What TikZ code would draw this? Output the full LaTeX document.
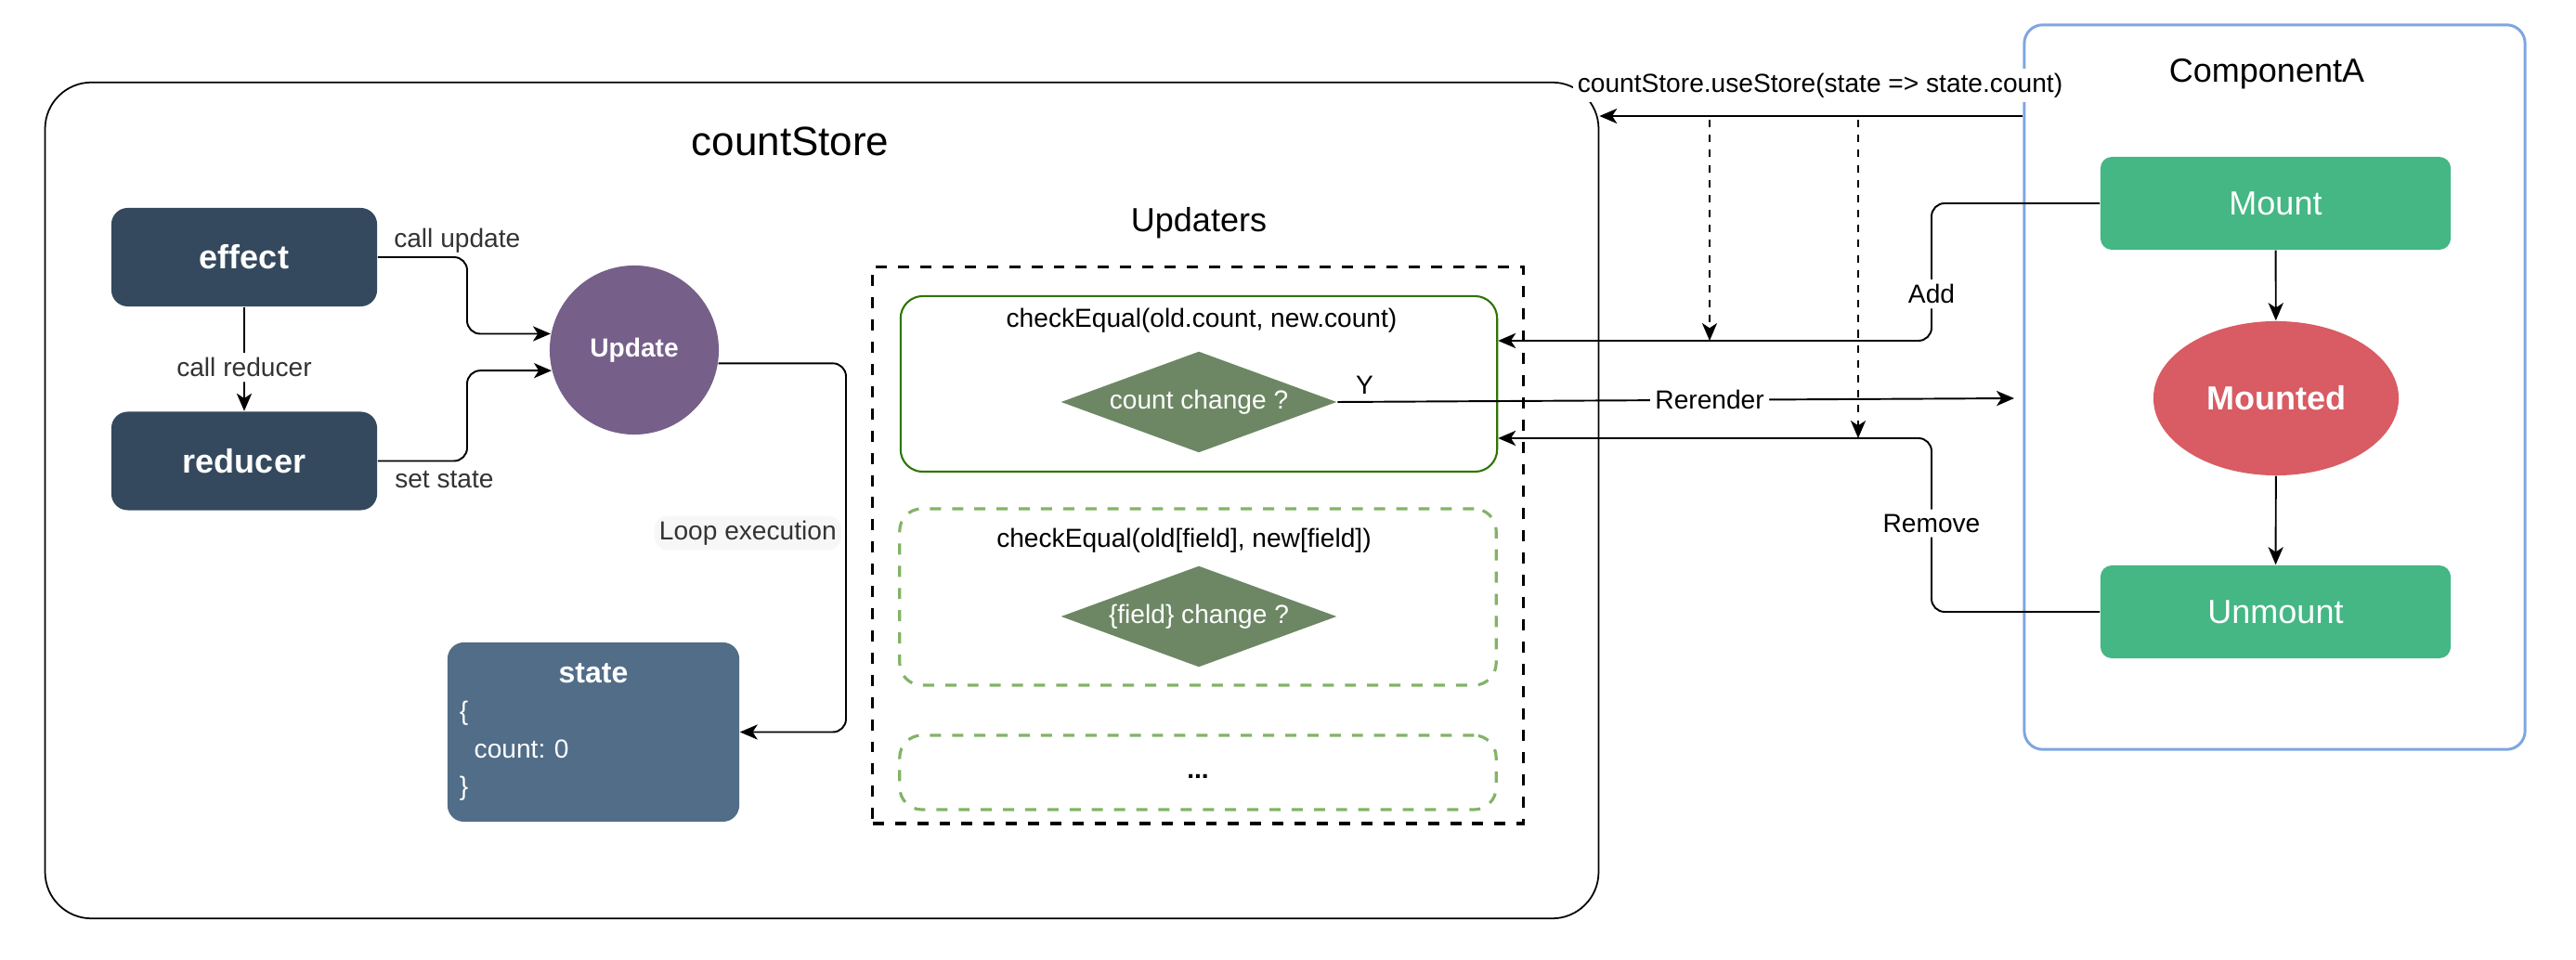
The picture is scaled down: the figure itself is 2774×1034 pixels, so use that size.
\documentclass[tikz,border=0pt]{standalone}
\usepackage{fontspec}
\setmainfont{Liberation Sans}
\usepackage{tikz}
\usetikzlibrary{arrows.meta, shapes.geometric, positioning}
\tikzset{>={Stealth[length=5.4pt, width=4.6pt, inset=1.5pt]}}

\definecolor{navy}{HTML}{34495E}
\definecolor{slate}{HTML}{516D88}
\definecolor{purp}{HTML}{76608A}
\definecolor{olive}{HTML}{6D8764}
\definecolor{dkgreen}{HTML}{2D7600}
\definecolor{ltgreen}{HTML}{82B366}
\definecolor{mint}{HTML}{44B784}
\definecolor{coral}{HTML}{D95B63}
\definecolor{skyblue}{HTML}{7EA6E0}
\definecolor{txtgray}{HTML}{333333}

\newcommand\sizeS{\fontsize{8}{9.6}\selectfont}
\newcommand\sizeM{\fontsize{9.1}{11}\selectfont}
\newcommand\sizeL{\fontsize{10.24}{12.3}\selectfont}
\newcommand\sizeXL{\fontsize{12.5}{15}\selectfont}

\begin{document}
\begin{tikzpicture}[x=0.01cm, y=-0.01cm,
  every node/.style={font=\sizeS},
  lbl/.style={fill=white, inner sep=1.5pt},
  arr/.style={->, line width=0.55pt, rounded corners=4pt},
  tap/.style={->, line width=0.4pt, dash pattern=on 2.3pt off 2.3pt},
  storebox/.style={rectangle, draw, line width=0.5pt, rounded corners=0.5cm, minimum width=16.72cm, minimum height=9cm},
  compbox/.style={rectangle, draw=skyblue, line width=0.85pt, rounded corners=0.2cm, minimum width=5.39cm, minimum height=7.8cm},
  dashbox/.style={rectangle, draw, line width=0.95pt, dash pattern=on 3.4pt off 3.4pt, minimum width=7cm, minimum height=5.99cm},
  updbox/.style={rectangle, draw=dkgreen, line width=0.6pt, rounded corners=6.8pt, minimum width=6.42cm, minimum height=1.89cm},
  updboxdash/.style={updbox, draw=ltgreen, line width=0.9pt, dash pattern=on 3.4pt off 3.4pt, minimum height=1.9cm},
  darkbox/.style={rectangle, rounded corners=5pt, fill=navy, text=white, minimum width=2.86cm, minimum height=1.06cm, font=\sizeL\bfseries},
  statebox/.style={rectangle, rounded corners=5pt, fill=slate, text=white, minimum width=3.14cm, minimum height=1.93cm, text width=3.14cm-7.4pt, inner xsep=3.7pt, align=left, font=\fontsize{8}{11.4}\selectfont},
  greenbox/.style={rectangle, rounded corners=3.5pt, fill=mint, text=white, minimum width=3.77cm, minimum height=1cm, font=\sizeL},
  cond/.style={diamond, aspect=2.72, fill=olive, text=white, minimum width=2.97cm, minimum height=1.09cm, inner sep=0pt}]
\useasboundingbox (0,0) rectangle (2774,1034);

% containers
\node[storebox] (store) at (885,539) {};
\node[font=\sizeXL] (storetitle) at (851,152) {countStore};
\node[compbox] (compA) at (2449.5,417) {};
\node[font=\sizeL] (comptitle) at (2441,80) {ComponentA};

% store internals
\node[darkbox] (effect) at (263,277) {effect};
\node[darkbox] (reducer) at (263,496.5) {reducer};
\node[circle, fill=purp, minimum size=1.82cm, inner sep=0pt, text=white, font=\sizeS\bfseries] (update) at (683,377) {Update};
\node[statebox] (state) at (639,788.5) {\makebox[\linewidth]{\sizeM\bfseries state}\\ \{\\ \hspace*{4.5pt}count:\ 0\\ \}};

% updaters
\node[font=\sizeL] (updtitle) at (1291,240) {Updaters};
\node[dashbox] (updaters) at (1290,587.5) {};
\node[updbox] (upd1) at (1291,413.5) {};
\node (eq1) at (1294,345) {checkEqual(old.count, new.count)};
\node[cond] (d1) at (1291,433) {count change ?};
\node[updboxdash] (upd2) at (1290,643) {};
\node (eq2) at (1275,582) {checkEqual(old[field], new[field])};
\node[cond] (d2) at (1291,664) {\{field\} change ?};
\node[updboxdash, minimum height=0.8cm] (upd3) at (1290,832) {\strut\textbf{...}};

% component
\node[greenbox] (mount) at (2450.5,219) {Mount};
\node[ellipse, fill=coral, minimum width=2.64cm, minimum height=1.66cm, text=white, font=\sizeL\bfseries] (mounted) at (2451,429) {Mounted};
\node[greenbox] (unmount) at (2450.5,659) {Unmount};

% store connectors
\coordinate (joinX) at (503,0);
\coordinate (loopX) at (911,0);
\draw[arr] (effect) -- node[lbl, pos=0.58, text=txtgray]{call reducer} (reducer);
\draw[arr] (effect.east) node[anchor=south west, inner sep=1pt, xshift=0.13cm, text=txtgray]{call update} -| (joinX |- update.169) -- (update.169);
\draw[arr] (reducer.east) node[anchor=north west, inner sep=1pt, xshift=0.14cm, yshift=-0.06cm, text=txtgray]{set state} -| (joinX |- update.194) -- (update.194);
\draw[arr] (update.-9) -- (loopX |- update.-9) -- node[pos=0.46, left, fill=black!3, inner sep=1.5pt, xshift=-0.04cm, text=txtgray]{Loop execution} (loopX |- state.east) -- (state.east);

% component connectors
\coordinate (rerend) at (2169,429);
\coordinate (addturn) at (2080,367);
\coordinate (remturn) at (2080,472);
\coordinate (hook) at (2000,125);
\coordinate (tapA) at (1841,129);
\coordinate (tapB) at (2001,129);
\draw[arr] (mount) -- (mounted);
\draw[arr] (mounted) -- (unmount);
\draw[arr] (d1.east) -- node[pos=0.04, above, inner sep=2pt]{Y} node[pos=0.55, lbl]{Rerender} (rerend);
\draw[arr] (mount.west) -- (addturn |- mount.west) -- node[lbl, pos=0.66]{Add} (addturn) -- (upd1.east |- addturn);
\draw[arr] (unmount.west) -- (remturn |- unmount.west) -- node[lbl, pos=0.51]{Remove} (remturn) -- (upd1.east |- remturn);
\draw[arr] (compA.west |- hook) -- (store.east |- hook);
\draw[tap] (tapA) -- (tapA |- addturn);
\draw[tap] (tapB) -- (tapB |- remturn);
\node[lbl] (usestore) at (1960,92) {countStore.useStore(state => state.count)};

\end{tikzpicture}
\end{document}
